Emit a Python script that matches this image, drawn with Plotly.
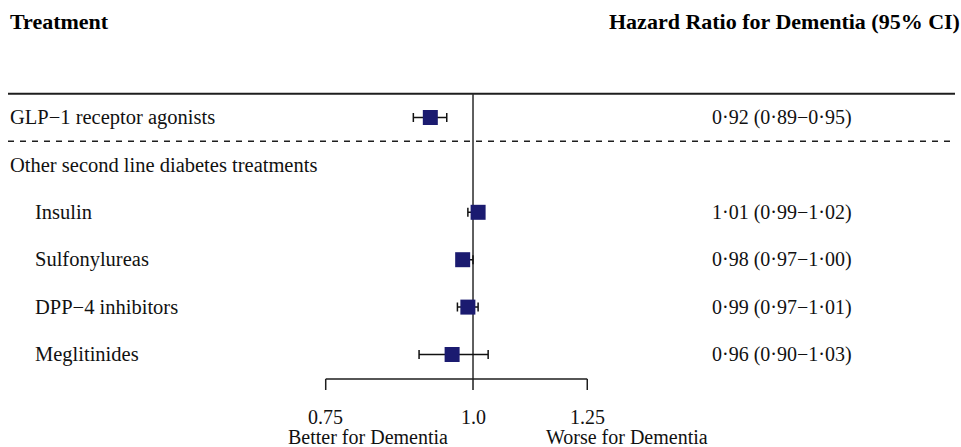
import math
import plotly.graph_objects as go

# ---- data ----
row_labels = ["GLP\u22121 receptor agonists", "Other second line diabetes treatments",
              "Insulin", "Sulfonylureas", "DPP\u22124 inhibitors", "Meglitinides"]
row_indent = [False, False, True, True, True, True]
est_rows = [0, 2, 3, 4, 5]
hr = [0.92, 1.01, 0.98, 0.99, 0.96]
ci_lo = [0.89, 0.99, 0.97, 0.97, 0.90]
ci_hi = [0.95, 1.02, 1.00, 1.01, 1.03]
hr_text = ["0\u00b792 (0\u00b789\u22120\u00b795)", "1\u00b701 (0\u00b799\u22121\u00b702)",
           "0\u00b798 (0\u00b797\u22121\u00b700)", "0\u00b799 (0\u00b797\u22121\u00b701)",
           "0\u00b796 (0\u00b790\u22121\u00b703)"]
tick_vals = [0.75, 1.0, 1.25]
tick_text = ["0.75", "1.0", "1.25"]

W, H = 961, 447
FONT = "Liberation Serif, Times New Roman, serif"
ROW0, STEP = 117.5, 47.4          # pixel centre of row 0 and row spacing


def yi(px):
    return (px - ROW0) / STEP


fig = go.Figure()
fig.add_trace(go.Scatter(
    x=hr, y=est_rows, mode="markers",
    marker=dict(symbol="square", size=15, color="#1b1b70", line=dict(width=0)),
    error_x=dict(type="data", symmetric=False,
                 array=[h - e for h, e in zip(ci_hi, hr)],
                 arrayminus=[e - l for e, l in zip(hr, ci_lo)],
                 color="#111111", thickness=1.5, width=4.5),
    hoverinfo="skip", showlegend=False, cliponaxis=False,
))

shapes = []
LC = "#1e1e1e"
# top rule
shapes.append(dict(type="line", xref="paper", yref="y", x0=8 / W, x1=955 / W,
                   y0=-0.5, y1=-0.5, line=dict(color=LC, width=2), layer="below"))
# dashed separator
shapes.append(dict(type="line", xref="paper", yref="y", x0=8 / W, x1=955 / W,
                   y0=0.5, y1=0.5, line=dict(color=LC, width=1.5, dash="6px,6px"), layer="below"))
axis_y = yi(379)
tick_y = yi(390)
# reference line at HR = 1
shapes.append(dict(type="line", xref="x", yref="y", x0=1, x1=1, y0=-0.5, y1=axis_y,
                   line=dict(color="#2a2a2a", width=1.5), layer="below"))
# x axis line and ticks
shapes.append(dict(type="line", xref="x", yref="y", x0=tick_vals[0], x1=tick_vals[-1],
                   y0=axis_y, y1=axis_y, line=dict(color=LC, width=1.5)))
for t in tick_vals:
    shapes.append(dict(type="line", xref="x", yref="y", x0=t, x1=t, y0=axis_y, y1=tick_y,
                       line=dict(color=LC, width=1.5)))

ann = []
base = dict(showarrow=False, borderpad=0, borderwidth=0)
ann.append(dict(text="<b>Treatment</b>", xref="paper", yref="paper", x=10 / W, y=1 - 22 / H,
                xanchor="left", yanchor="middle", font=dict(family=FONT, size=22, color="#000"), **base))
ann.append(dict(text="<b>Hazard Ratio for Dementia (95% CI)</b>", xref="paper", yref="paper",
                x=960 / W, y=1 - 22 / H, xanchor="right", yanchor="middle",
                font=dict(family=FONT, size=22, color="#000"), **base))
for i, (lab, ind) in enumerate(zip(row_labels, row_indent)):
    ann.append(dict(text=lab, xref="paper", yref="y", x=(35 if ind else 10) / W, y=i,
                    xanchor="left", yanchor="middle", font=dict(family=FONT, size=20.5, color="#111"), **base))
for r, t in zip(est_rows, hr_text):
    ann.append(dict(text=t, xref="paper", yref="y", x=712 / W, y=r,
                    xanchor="left", yanchor="middle", font=dict(family=FONT, size=20, color="#111"), **base))
# annotations on a log axis are positioned in log10 units
for v, t in zip(tick_vals, tick_text):
    ann.append(dict(text=t, xref="x", yref="y", x=math.log10(v), y=yi(417),
                    xanchor="center", yanchor="middle", font=dict(family=FONT, size=20, color="#111"), **base))
ann.append(dict(text="Better for Dementia", xref="paper", yref="y", x=368 / W, y=yi(437),
                xanchor="center", yanchor="middle", font=dict(family=FONT, size=20, color="#111"), **base))
ann.append(dict(text="Worse for Dementia", xref="paper", yref="y", x=627 / W, y=yi(437),
                xanchor="center", yanchor="middle", font=dict(family=FONT, size=20, color="#111"), **base))

fig.update_layout(
    width=W, height=H, margin=dict(l=0, r=0, t=0, b=0),
    paper_bgcolor="white", plot_bgcolor="white",
    xaxis=dict(type="log", range=[-0.4012, 0.4139], visible=False, domain=[0, 1]),
    yaxis=dict(range=[yi(H), yi(0)], visible=False, domain=[0, 1]),
    shapes=shapes, annotations=ann, showlegend=False, hovermode=False,
)
fig.write_html("out.html", config={"displayModeBar": False, "staticPlot": True},
               post_script="document.body.style.margin='0';document.body.style.overflow='hidden';")
